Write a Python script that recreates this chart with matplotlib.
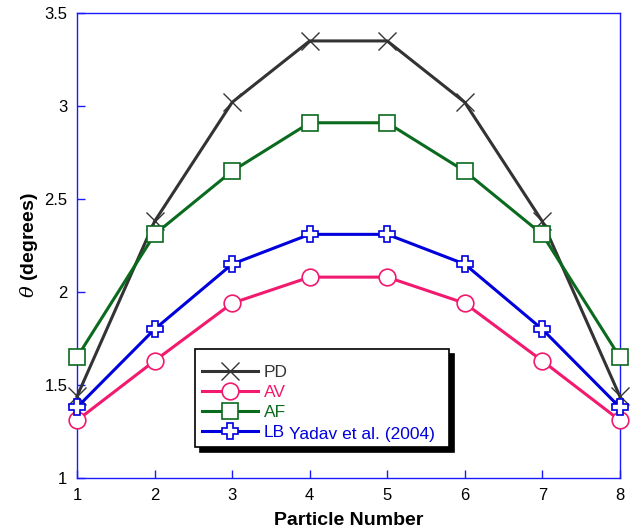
import numpy as np
import matplotlib
matplotlib.use("Agg")
import matplotlib.pyplot as plt

plt.rcParams["font.family"] = ["Liberation Sans", "DejaVu Sans"]
plt.rcParams["mathtext.fontset"] = "dejavuserif"

particles = [1, 2, 3, 4, 5, 6, 7, 8]
pd_vals = [1.44, 2.38, 3.02, 3.35, 3.35, 3.02, 2.38, 1.44]
av_vals = [1.31, 1.63, 1.94, 2.08, 2.08, 1.94, 1.63, 1.31]
af_vals = [1.65, 2.31, 2.65, 2.91, 2.91, 2.65, 2.31, 1.65]
lb_vals = [1.38, 1.80, 2.15, 2.31, 2.31, 2.15, 1.80, 1.38]

series = [
    ("PD", pd_vals, "#333333", "x", 13),
    ("AV", av_vals, "#f21a6e", "o", 12),
    ("AF", af_vals, "#0a6a1e", "s", 12),
    ("LB", lb_vals, "#0000dd", "P", 11),
]

fig = plt.figure(figsize=(6.37, 5.32), dpi=100)
ax = fig.add_axes([0.121, 0.1015, 0.852, 0.874])

for name, vals, col, mk, ms in series:
    ax.plot(particles, vals, color=col, lw=2.2, marker=mk, markersize=ms,
            markerfacecolor="white", markeredgecolor=col,
            markeredgewidth=1.2 if mk != "x" else 1.0, label=name,
            clip_on=False, zorder=3)

ax.set_xlim(1, 8)
ax.set_ylim(1, 3.5)
ax.set_xticks(particles)
ax.set_yticks([1, 1.5, 2, 2.5, 3, 3.5])
ax.set_yticklabels(["1", "1.5", "2", "2.5", "3", "3.5"])
ax.tick_params(direction="in", length=6, width=1, color="#1a1aff",
               labelsize=12, pad=7, top=False, right=False)
for sp in ax.spines.values():
    sp.set_color("#1a1aff")
    sp.set_linewidth(1)

ax.set_xlabel("Particle Number", fontsize=14, fontweight="bold", labelpad=7)
ax.set_ylabel(r"$\theta$ (degrees)", fontsize=14, fontweight="bold", labelpad=3)

leg = ax.legend(loc="upper left", bbox_to_anchor=(0.217, 0.067, 0.468, 0.210),
                mode="expand", fontsize=12.5, frameon=True, fancybox=False,
                shadow={"color": "black", "alpha": 1, "ox": 3.8, "oy": -3.8},
                edgecolor="black", framealpha=1, handlelength=3.2,
                handletextpad=0.35, labelspacing=0.27, borderpad=0.42,
                borderaxespad=0, title=" ", title_fontsize=2)
leg.get_frame().set_linewidth(1.2)
leg.set_zorder(5)
for txt, (_, _, col, _, _) in zip(leg.get_texts(), series):
    txt.set_color(col)

# citation next to the LB entry
fig.canvas.draw()
lb_text = leg.get_texts()[3]
bb = lb_text.get_window_extent()
x_fig, y_fig = fig.transFigure.inverted().transform((bb.x1 + 4, bb.y0 - 2))
fig.text(x_fig, y_fig, "Yadav et al. (2004)", color="#0000dd",
         fontsize=12.5, va="bottom", ha="left", zorder=6)

fig.savefig("out.png", dpi=100)
